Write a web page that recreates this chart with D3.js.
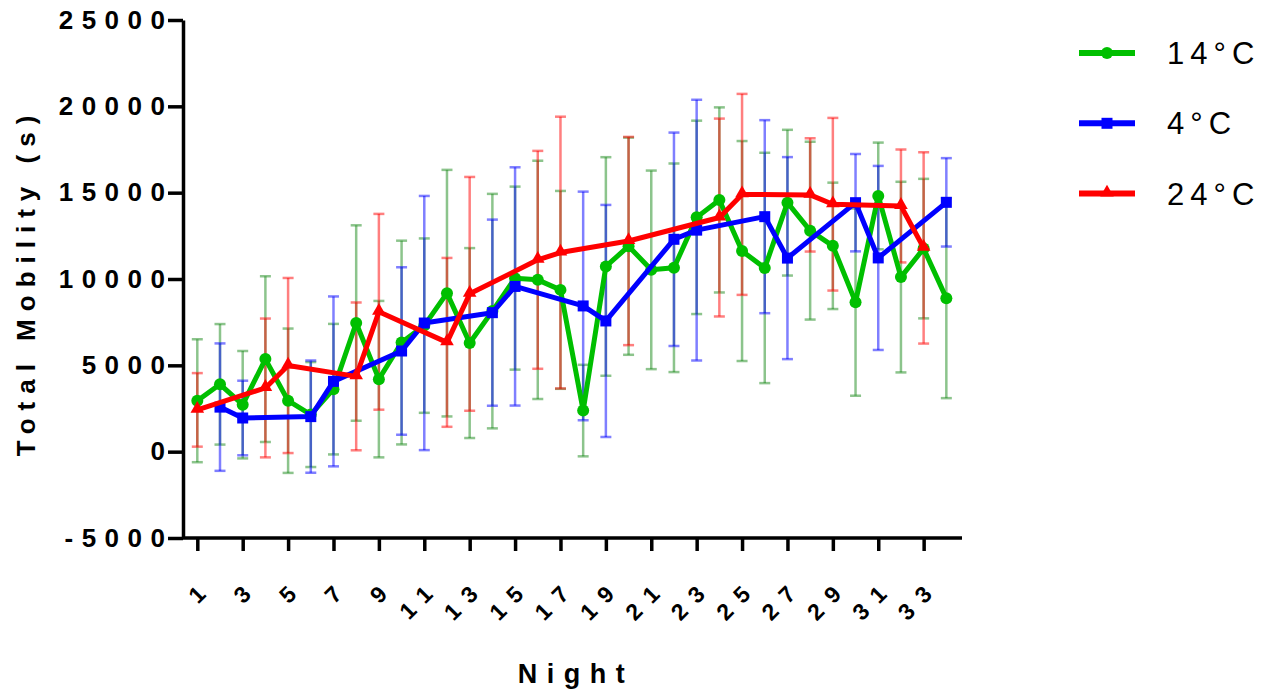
<!DOCTYPE html>
<html><head><meta charset="utf-8">
<script src="https://cdn.jsdelivr.net/npm/d3@7"></script>
<style>body{margin:0;background:#fff;} svg{display:block;font-family:Arial,"Liberation Sans",sans-serif;}</style>
</head><body><svg id="c" width="1271" height="692"></svg>
<script>
// ---- data ----
const nights14 = [1,2,3,4,5,6,7,8,9,10,11,12,13,14,15,16,17,18,19,20,21,22,23,24,25,26,27,28,29,30,31,32,33,34];
const mean14 = [2950,3900,2720,5360,2950,2150,3620,7450,4200,6320,7300,9180,6290,8140,10050,9950,9370,2380,10725,11900,10530,10650,13570,14580,11620,10640,14420,12800,11920,8660,14810,10110,11760,8890];
const sd14   = [3560,3490,3110,4800,4180,3040,3780,5660,4530,5900,5050,7140,5500,6790,5300,6900,5730,2650,6330,6290,5750,6040,5600,5360,6370,6670,4220,5150,3660,5420,3090,5520,4040,5790];

const nights4 = [2,3,6,7,10,11,14,15,18,19,22,23,26,27,30,31,34];
const mean4 = [2580,1950,2030,4070,5830,7450,8050,9570,8440,7570,12300,12830,13610,11210,14420,11220,14440];
const sd4   = [3690,2160,3250,4920,4850,7360,5390,6900,6620,6720,6180,7550,5590,5850,2820,5330,2560];

const nights24 = [1,4,5,8,9,12,13,16,17,20,24,25,28,29,32,33];
const mean24 = [2420,3690,4990,4360,8100,6330,9140,11110,11530,12200,13560,14900,14870,14330,14230,11800];
const sd24   = [2130,4020,5070,4280,5670,4890,6770,6310,7870,6030,5730,5820,3280,5000,3270,5540];

const seriesNames = ["14\u00b0C","4\u00b0C","24\u00b0C"];
const yTicks = [-5000,0,5000,10000,15000,20000,25000];
const xTicks = [1,3,5,7,9,11,13,15,17,19,21,23,25,27,29,31,33];

const series = [
  {name: seriesNames[0], x: nights14, m: mean14, s: sd14, color: "#00bf00", bar: "#1a8a1a", shape: "circle"},
  {name: seriesNames[1], x: nights4,  m: mean4,  s: sd4,  color: "#0000ff", bar: "#0000ff", shape: "square"},
  {name: seriesNames[2], x: nights24, m: mean24, s: sd24, color: "#ff0000", bar: "#ff0000", shape: "triangle"}
];

// ---- layout ----
const FONT = "Arial,'Liberation Sans',sans-serif";
const svg = d3.select("#c");
const x = d3.scaleLinear().domain([0.37, 34.69]).range([183, 962]);
const y = d3.scaleLinear().domain([-5000, 25000]).range([538, 20]);

// error bars
series.forEach(sr => {
  const g = svg.append("g").attr("stroke", sr.bar).attr("stroke-opacity", 0.5).attr("stroke-width", 2.5).attr("fill","none");
  sr.x.forEach((n, i) => {
    const cx = x(n), hi = y(sr.m[i] + sr.s[i]), lo = y(sr.m[i] - sr.s[i]);
    g.append("line").attr("x1", cx).attr("x2", cx).attr("y1", hi).attr("y2", lo);
    g.append("line").attr("x1", cx-5.5).attr("x2", cx+5.5).attr("y1", hi).attr("y2", hi);
    g.append("line").attr("x1", cx-5.5).attr("x2", cx+5.5).attr("y1", lo).attr("y2", lo);
  });
});

function marker(sel, shape, color) {
  if (shape === "circle") sel.append("circle").attr("r", 6).attr("fill", color);
  else if (shape === "square") sel.append("rect").attr("x",-5.5).attr("y",-5.5).attr("width",11).attr("height",11).attr("fill", color);
  else sel.append("path").attr("d", d3.symbol(d3.symbolTriangle, 80)()).attr("transform","translate(0,-1)").attr("fill", color);
}

// lines + markers
series.forEach(sr => {
  const pts = sr.x.map((n,i)=>[x(n), y(sr.m[i])]);
  svg.append("path").attr("d", d3.line()(pts)).attr("fill","none").attr("stroke", sr.color)
    .attr("stroke-width", 5).attr("stroke-linejoin","round");
  pts.forEach(p => marker(svg.append("g").attr("transform", `translate(${p[0]},${p[1]})`), sr.shape, sr.color));
});

// axes
const yAxis = svg.append("g").attr("transform","translate(183,0)")
  .call(d3.axisLeft(y).tickValues(yTicks).tickSize(15).tickSizeOuter(0).tickPadding(3).tickFormat(d => String(d)));
yAxis.select(".domain").attr("stroke","#000").attr("stroke-width",3.5);
yAxis.selectAll(".tick line").attr("stroke","#000").attr("stroke-width",3.5);
yAxis.selectAll(".tick text").attr("font-size",26).attr("font-weight","bold").attr("fill","#000")
  .attr("letter-spacing","8.5px").attr("dx","8.5px").attr("font-family",FONT);

const xAxis = svg.append("g").attr("transform","translate(0,538)")
  .call(d3.axisBottom(x).tickValues(xTicks).tickSize(13).tickSizeOuter(0).tickFormat(d => String(d)));
xAxis.select(".domain").attr("stroke","#000").attr("stroke-width",3.5).attr("d","M183,0H962");
xAxis.selectAll(".tick line").attr("stroke","#000").attr("stroke-width",3.5);
xAxis.selectAll(".tick text").attr("font-size",23).attr("font-weight","bold").attr("fill","#000")
  .attr("letter-spacing","11px").attr("font-family",FONT)
  .attr("text-anchor","end").attr("dy",null).attr("y",null)
  .attr("transform","translate(17,50) rotate(-45)");

// axis titles
svg.append("text").attr("x", 576).attr("y", 683).attr("text-anchor","middle").attr("font-family",FONT)
  .attr("font-size",27).attr("font-weight","bold").attr("letter-spacing","9.5px").text("Night");
svg.append("text").attr("transform","translate(35,282) rotate(-90)").attr("text-anchor","middle").attr("font-family",FONT)
  .attr("font-size",26).attr("font-weight","bold").attr("letter-spacing","8px").text("Total Mobility (s)");

// legend
series.forEach((sr, i) => {
  const ly = 53 + i*70.3;
  const g = svg.append("g").attr("transform", `translate(0,${ly})`);
  g.append("line").attr("x1",1079).attr("x2",1135).attr("y1",0).attr("y2",0).attr("stroke",sr.color).attr("stroke-width",6);
  marker(g.append("g").attr("transform","translate(1107,0)"), sr.shape, sr.color);
  g.append("text").attr("x",1167).attr("y",11).attr("font-family",FONT).attr("font-size",31).attr("letter-spacing","6px").text(sr.name);
});
</script></body></html>
